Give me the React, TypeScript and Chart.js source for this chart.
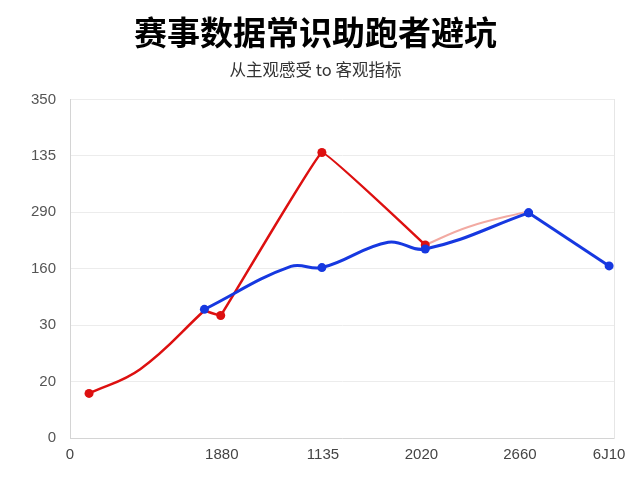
import { useEffect, useRef } from "react";
import { Chart, registerables } from "chart.js";

Chart.register(...registerables);

const titleText = "赛事数据常识助跑者避坑";
const subtitleText = "从主观感受 to 客观指标";

const xTickValues = [0, 27.9, 46.5, 64.6, 82.7, 99.1];
const xTickLabels = ["0", "1880", "1135", "2020", "2660", "6J10"];
const yTickLabels = ["0", "20", "30", "160", "290", "135", "350"];

// red: curved rise, then straight zig-zag
const redCurveX = [3.5, 12.9, 24.7];
const redCurveY = [0.79, 1.22, 2.26];
const redCurveMarked = [true, false, false];
const redStraightX = [24.7, 27.7, 46.3, 65.3];
const redStraightY = [2.26, 2.17, 5.06, 3.42];
const redStraightMarked = [false, true, true, true];

const pinkX = [65.3, 73.2, 84.3];
const pinkY = [3.42, 3.74, 4.02];

// blue: smooth part, then straight final segment
const blueCurveX = [24.7, 40.6, 46.3, 58.5, 65.3, 84.3];
const blueCurveY = [2.28, 3.04, 3.02, 3.47, 3.35, 3.99];
const blueCurveMarked = [true, false, true, false, true, true];
const blueTailX = [84.3, 99.1];
const blueTailY = [3.99, 3.05];

const RED = "#dd1010";
const BLUE = "#1638e0";
const PINK = "#f2aaa2";

const zip = (xs: number[], ys: number[]) => xs.map((x, i) => ({ x, y: ys[i] }));

export default function App() {
  const ref = useRef<HTMLCanvasElement | null>(null);

  useEffect(() => {
    document.body.style.margin = "0";
    if (!ref.current) return;
    const base = { pointHoverRadius: 0, pointBorderWidth: 0 };
    const chart = new Chart(ref.current, {
      type: "line",
      data: {
        datasets: [
          {
            ...base,
            data: zip(blueCurveX, blueCurveY),
            borderColor: BLUE,
            backgroundColor: BLUE,
            borderWidth: 3,
            tension: 0.4,
            pointRadius: blueCurveMarked.map((m) => (m ? 4.5 : 0)),
            order: 1,
          },
          {
            ...base,
            data: zip(blueTailX, blueTailY),
            borderColor: BLUE,
            backgroundColor: BLUE,
            borderWidth: 3,
            tension: 0,
            pointRadius: 4.5,
            order: 1,
          },
          {
            ...base,
            data: zip(redCurveX, redCurveY),
            borderColor: RED,
            backgroundColor: RED,
            borderWidth: 2.5,
            tension: 0.4,
            pointRadius: redCurveMarked.map((m) => (m ? 4.5 : 0)),
            order: 2,
          },
          {
            ...base,
            data: zip(redStraightX, redStraightY),
            borderColor: RED,
            backgroundColor: RED,
            borderWidth: 2.5,
            tension: 0.05,
            pointRadius: redStraightMarked.map((m) => (m ? 4.5 : 0)),
            order: 2,
          },
          {
            ...base,
            data: zip(pinkX, pinkY),
            borderColor: PINK,
            backgroundColor: PINK,
            borderWidth: 2,
            tension: 0.4,
            pointRadius: 0,
            order: 3,
          },
        ],
      },
      options: {
        animation: false,
        responsive: false,
        maintainAspectRatio: false,
        layout: { padding: { left: 17, right: 26, bottom: 8, top: 0 } },
        plugins: {
          legend: { display: false },
          tooltip: { enabled: false },
          title: {
            display: true,
            text: titleText,
            color: "#000",
            font: { family: "'Noto Sans CJK SC'", size: 33, weight: "bold" },
            padding: { top: 13, bottom: 7 },
          },
          subtitle: {
            display: true,
            text: subtitleText,
            color: "#333",
            font: { family: "'Noto Sans CJK SC', 'Liberation Sans'", size: 16.5 },
            padding: { top: 0, bottom: 20 },
          },
        },
        scales: {
          x: {
            type: "linear",
            min: 0,
            max: 100,
            afterBuildTicks: (scale: any) => {
              scale.ticks = xTickValues.map((v) => ({ value: v }));
            },
            grid: { display: false, drawTicks: false },
            border: { display: true, color: "#d4d4d4", width: 1 },
            ticks: {
              autoSkip: false,
              maxRotation: 0,
              padding: 8,
              color: "#444",
              font: { family: "'Liberation Sans', Arial", size: 15 },
              callback: (_v: any, i: number) => xTickLabels[i],
            },
          },
          y: {
            type: "linear",
            min: 0,
            max: 6,
            grid: { color: "#ececec", drawTicks: false },
            border: { display: true, color: "#d4d4d4", width: 1 },
            ticks: {
              stepSize: 1,
              padding: 14,
              color: "#555",
              font: { family: "'Liberation Sans', Arial", size: 15 },
              callback: (v: any) => yTickLabels[Math.round(Number(v))] ?? "",
            },
          },
          y2: {
            type: "linear",
            position: "right",
            min: 0,
            max: 6,
            grid: { display: false, drawTicks: false },
            border: { display: true, color: "#e6e6e6", width: 1 },
            ticks: { display: false },
          },
        },
      },
    } as any);
    return () => chart.destroy();
  }, []);

  return <canvas ref={ref} width={640} height={480} style={{ display: "block" }} />;
}
